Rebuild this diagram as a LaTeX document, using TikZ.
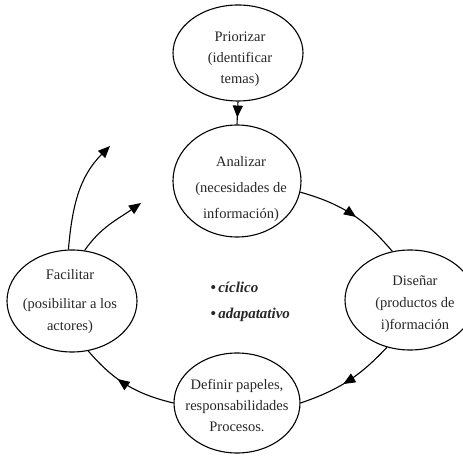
\documentclass[tikz,border=0pt]{standalone}
\usepackage{fontspec}
\setmainfont{Liberation Serif}
\usetikzlibrary{shapes.geometric,arrows.meta,decorations.markings}
\begin{document}
\begin{tikzpicture}[x=1pt,y=1pt,
  bub/.style={draw, ellipse, line width=1.1pt, inner sep=0pt},
  lbl/.style={align=center, text=black!85, font=\fontsize{14.5}{#1}\selectfont},
  conn/.style={line width=1.1pt},
  tip/.style={-{Triangle[length=12pt,width=10pt]}},
  midarrow/.style={postaction={decorate}, decoration={markings, mark=at position #1 with {\arrow{Triangle[length=12pt,width=10pt]}}}}
]
\useasboundingbox (0,0) rectangle (463,455);

% bubbles
\node[bub, minimum width=130, minimum height=96]  (pri) at (238,402) {};
\node[bub, minimum width=128, minimum height=112] (ana) at (237,274) {};
\node[bub, minimum width=130, minimum height=100] (dis) at (410,155) {};
\node[bub, minimum width=126, minimum height=100] (def) at (237,52) {};
\node[bub, minimum width=130, minimum height=102] (fac) at (72,154) {};

% texts
\node[lbl=21] (prit) at (240,396) {Priorizar\\(identificar\\temas)};
\node[lbl=26] (anat) at (241,266) {Analizar\\(necesidades de\\información)};
\node[lbl=22] (dist) at (415,151) {Diseñar\\(productos de\\i)formación};
\node[lbl=21] (deft) at (237,50) {Definir papeles,\\responsabilidades\\Procesos.};
\node[lbl=22] (fact) at (70,153) {Facilitar\\[7pt](posibilitar a los\\actores)};
\node[align=left, anchor=west, text=black!85, font=\fontsize{15}{26}\selectfont\bfseries\itshape] (cent) at (207,153)
  {•\,cíclico\\•\,adapatativo};

% connectors
\draw[conn, midarrow=0.7] (pri.south) -- (ana.north);
\draw[conn, midarrow=0.55] (ana.-10) to[bend left=17] (dis.110);
\draw[conn, midarrow=0.55] (dis.244) to[bend left=14] (def.east);
\draw[conn, midarrow=0.6] (def.180) to[bend left=18] (fac.288);

\coordinate (e1) at (110,309);
\coordinate (e2) at (141,252);
\draw[conn, tip] (fac.94) to[out=85,in=225] (e1);
\draw[conn, tip] (fac.76) to[out=55,in=215] (e2);
\end{tikzpicture}
\end{document}
